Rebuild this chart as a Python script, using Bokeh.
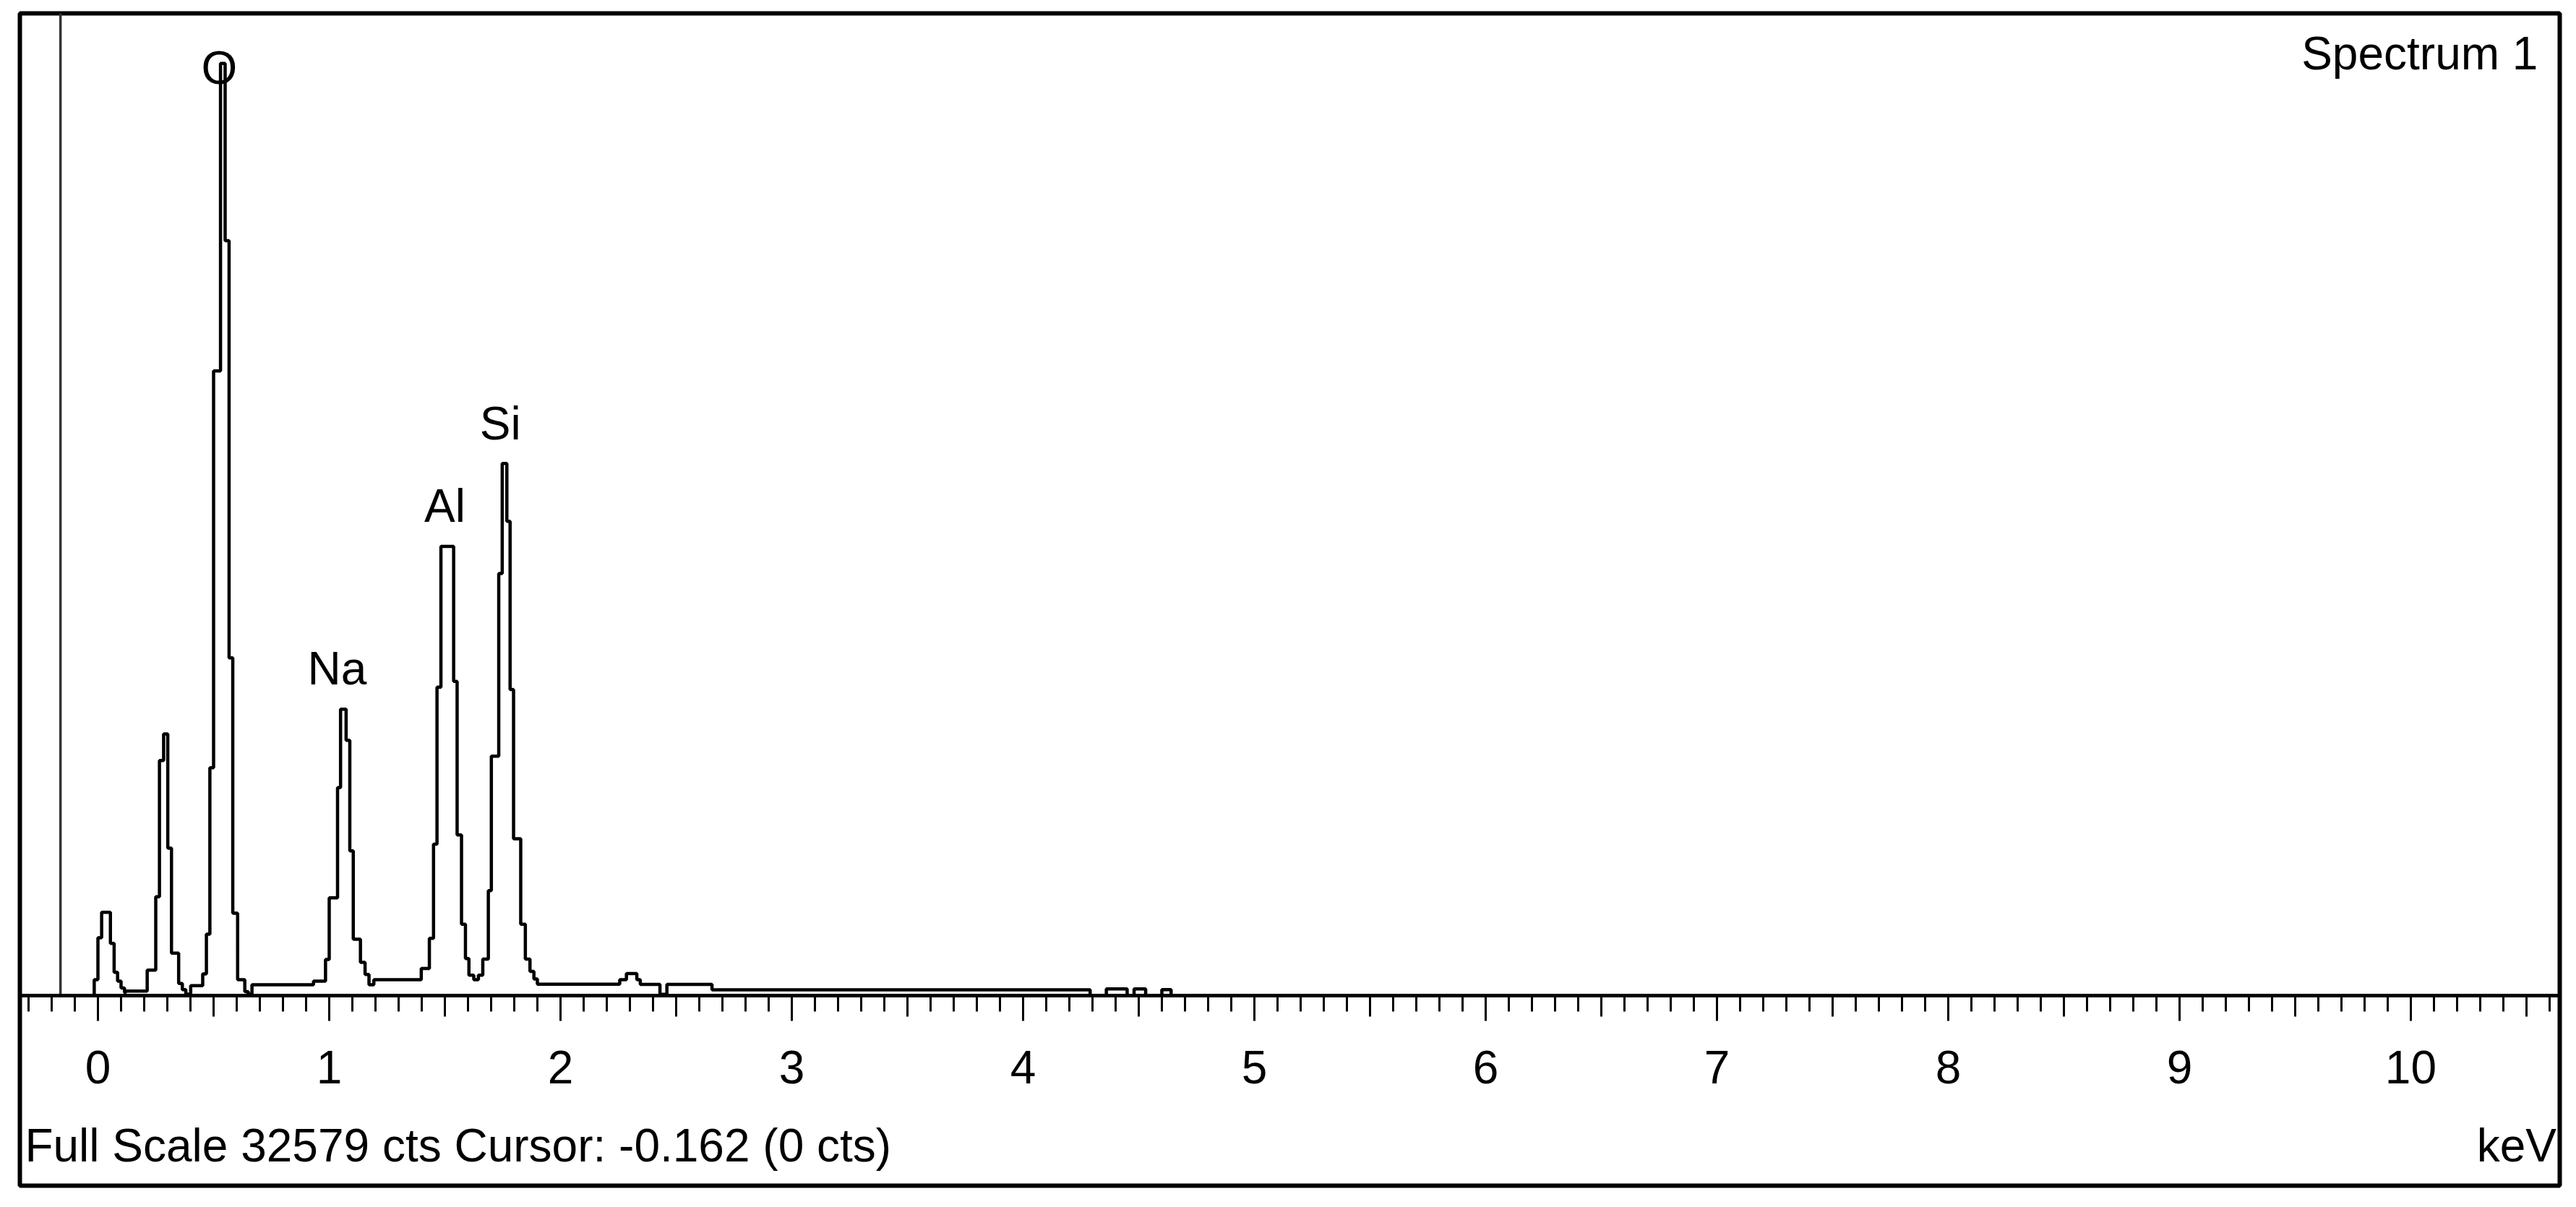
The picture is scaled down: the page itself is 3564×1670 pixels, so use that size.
from bokeh.plotting import figure
from bokeh.models import (LinearAxis, FixedTicker, Range1d, Label, ColumnDataSource,
                          CustomJSTickFormatter)
from bokeh.core.properties import value
from bokeh.embed import file_html
from bokeh.resources import INLINE

# ---------------- data ----------------
spectrum_name = "Spectrum 1"
full_scale_cts = 32579
cursor_kev = -0.162
cursor_cts = 0

# step spectrum: energy (keV) where each level starts, counts of that level
spectrum_kev = [-0.34, -0.016, 0.0, 0.016, 0.054, 0.07, 0.085, 0.10, 0.115, 0.12,
                0.213, 0.25, 0.266, 0.284, 0.302, 0.318, 0.349, 0.365, 0.38,
                0.401, 0.453, 0.469, 0.484, 0.5, 0.53, 0.55, 0.567, 0.583, 0.604,
                0.635, 0.65, 0.666,
                0.932, 0.984, 1.0, 1.036, 1.049, 1.073, 1.089, 1.104, 1.135,
                1.155, 1.172, 1.193,
                1.398, 1.433, 1.451, 1.466, 1.483, 1.538, 1.553, 1.572, 1.589,
                1.604, 1.625, 1.645, 1.664, 1.688, 1.701, 1.733, 1.748, 1.768,
                1.782, 1.797, 1.828, 1.848, 1.868, 1.885, 1.9,
                2.256, 2.285, 2.33, 2.345, 2.43, 2.46, 2.655,
                4.29, 4.36, 4.45, 4.48, 4.53, 4.6, 4.64, 10.65]
spectrum_counts = [0, 530, 1920, 2760, 1730, 770, 480, 250, 100, 150,
                   845, 3280, 7800, 8680, 4890, 1410, 400, 200, 50,
                   330, 720, 2040, 7560, 20720, 30920, 25040, 11200, 2730, 530,
                   130, 40, 360,
                   480, 1200, 3240, 6900, 9500, 8470, 4800, 1870, 1100,
                   700, 360, 530,
                   900, 1900, 5020, 10230, 14900, 10420, 5330, 2370, 1230,
                   680, 530, 680, 1210, 3480, 7940, 14000, 17650, 15730,
                   10150, 5200, 2370, 1210, 800, 550, 380,
                   530, 730, 530, 370, 40, 370, 190,
                   0, 220, 0, 220, 0, 200, 0, 0]

peak_names = ["O", "Na", "Al", "Si"]
peak_label_kev = [0.525, 1.034, 1.50, 1.74]
peak_label_counts = [30780, 10850, 16250, 18980]   # label centres

major_tick_values = list(range(0, 11))
half_tick_values = [k + 0.5 for k in range(-1, 11)]
minor_tick_values = [k / 10 for k in range(-3, 107) if k % 5 != 0]

FONT = "'Liberation Sans', Arial, sans-serif"
FS = "64px"

# ---------------- figure ----------------
p = figure(frame_width=3514, frame_height=1622,
           x_range=Range1d(-0.3375, 10.644), y_range=Range1d(-6305, full_scale_cts),
           x_axis_location=None, y_axis_location=None,
           output_backend="svg", toolbar_location=None,
           min_border_left=27, min_border_top=18, min_border_right=10, min_border_bottom=14)
p.grid.visible = False
p.outline_line_color = "black"
p.outline_line_width = 6
p.background_fill_color = "white"
p.border_fill_color = "white"

# keV axis drawn at zero counts inside the frame
xaxis = LinearAxis(fixed_location=0,
                   ticker=FixedTicker(ticks=major_tick_values, minor_ticks=minor_tick_values),
                   major_tick_out=35, major_tick_in=0, minor_tick_out=22, minor_tick_in=0,
                   axis_line_width=5, axis_line_color="black",
                   major_tick_line_width=3, minor_tick_line_width=3,
                   major_label_text_font=FONT, major_label_text_font_size=FS,
                   major_label_text_color="black", major_label_standoff=42)
p.add_layout(xaxis, "below")

half_axis = LinearAxis(fixed_location=0, ticker=FixedTicker(ticks=half_tick_values),
                       major_tick_out=29, major_tick_in=0, major_tick_line_width=3,
                       minor_tick_line_color=None, axis_line_color=None,
                       formatter=CustomJSTickFormatter(code="return ''"),
                       major_label_text_font_size="1px")
p.add_layout(half_axis, "below")

# cursor line
p.segment(x0=[cursor_kev], y0=[0], x1=[cursor_kev], y1=[full_scale_cts],
          line_color="#333333", line_width=3.5)

# spectrum
src = ColumnDataSource(dict(kev=spectrum_kev, counts=spectrum_counts))
p.step(x="kev", y="counts", source=src, mode="after", line_color="black", line_width=4.5)

# peak labels
lsrc = ColumnDataSource(dict(x=peak_label_kev, y=peak_label_counts, t=peak_names))
p.text(x="x", y="y", text="t", source=lsrc, text_font=value(FONT), text_font_size=FS,
       text_align="center", text_baseline="middle", text_color="black")

# texts
p.add_layout(Label(x=10.55, y=31260, text=spectrum_name, text_font=FONT, text_font_size=FS,
                   text_align="right", text_baseline="middle", text_color="black"))
p.add_layout(Label(x=-0.316, y=-4986,
                   text=f"Full Scale {full_scale_cts} cts Cursor: {cursor_kev}  ({cursor_cts} cts)",
                   text_font=FONT, text_font_size=FS,
                   text_align="left", text_baseline="middle", text_color="black"))
p.add_layout(Label(x=10.63, y=-4986, text="keV", text_font=FONT, text_font_size=FS,
                   text_align="right", text_baseline="middle", text_color="black"))

open("out.html", "w").write(file_html(p, INLINE))
